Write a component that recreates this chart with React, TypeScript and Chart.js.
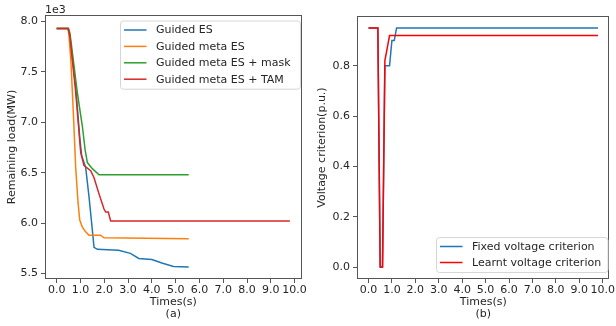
import React, { useEffect, useRef } from "react";
import { Chart, registerables } from "chart.js";

Chart.register(...registerables);

// ---------- data ----------
const timeTicks = [0, 1, 2, 3, 4, 5, 6, 7, 8, 9, 10];
const loadTicks = [5.5, 6.0, 6.5, 7.0, 7.5, 8.0];
const voltTicks = [0, 0.2, 0.4, 0.6, 0.8];

const esTime = [0, 0.48, 0.55, 0.8, 0.97, 1.05, 1.22, 1.36, 1.5, 1.57, 1.71, 2.6, 3.1, 3.45, 4.0, 4.42, 4.91, 5.55];
const esLoad = [7.93, 7.93, 7.86, 7.35, 6.85, 6.67, 6.55, 6.26, 5.93, 5.76, 5.74, 5.73, 5.7, 5.65, 5.64, 5.605, 5.57, 5.565];

const metaTime = [0, 0.48, 0.52, 0.6, 0.7, 0.8, 0.9, 0.97, 1.08, 1.2, 1.36, 1.85, 1.99, 5.55];
const metaLoad = [7.93, 7.93, 7.85, 7.6, 7.1, 6.55, 6.2, 6.03, 5.96, 5.92, 5.88, 5.88, 5.855, 5.845];

const maskTime = [0, 0.5, 0.56, 0.73, 0.87, 1.08, 1.2, 1.29, 1.5, 1.78, 5.55];
const maskLoad = [7.93, 7.93, 7.88, 7.56, 7.29, 6.96, 6.72, 6.6, 6.54, 6.48, 6.48];

const tamTime = [0, 0.48, 0.55, 0.8, 1.01, 1.15, 1.43, 1.57, 1.78, 1.99, 2.06, 2.17, 2.27, 9.8];
const tamLoad = [7.93, 7.93, 7.86, 7.3, 6.7, 6.57, 6.52, 6.45, 6.29, 6.14, 6.11, 6.11, 6.02, 6.02];

const fixedTime = [0, 0.4, 0.5, 0.6, 0.7, 0.9, 1.0, 1.1, 1.2, 9.8];
const fixedVolt = [0.95, 0.95, 0, 0, 0.8, 0.8, 0.9, 0.9, 0.95, 0.95];

const learntTime = [0, 0.4, 0.5, 0.6, 0.7, 0.9, 9.8];
const learntVolt = [0.95, 0.95, 0, 0, 0.82, 0.92, 0.92];

const leftLabels = ["Guided ES", "Guided meta ES", "Guided meta ES + mask", "Guided meta ES + TAM"];
const leftColors = ["#1f77b4", "#ff7f0e", "#2ca02c", "#d62728"];
const rightLabels = ["Fixed voltage criterion", "Learnt voltage criterion"];
const rightColors = ["#1f77b4", "#ff0000"];

// ---------- helpers ----------
const FONT = "DejaVu Sans";
const TEXT = "#262626";
const AXIS = "#555555";

const zip = (xs: number[], ys: number[]) => xs.map((x, i) => ({ x, y: ys[i] }));

function framePlugin() {
  return {
    id: "frame",
    afterDraw(chart: any) {
      const { ctx, chartArea: a } = chart;
      ctx.save();
      ctx.strokeStyle = AXIS;
      ctx.lineWidth = 1;
      ctx.strokeRect(Math.round(a.left) + 0.5, Math.round(a.top) + 0.5, Math.round(a.right - a.left) - 1, Math.round(a.bottom - a.top) - 1);
      ctx.restore();
    },
  };
}

function legendPlugin(labels: string[], colors: string[], box: { x: number; y: number; right?: number }, row: number) {
  return {
    id: "customLegend",
    afterDraw(chart: any) {
      const ctx = chart.ctx;
      ctx.save();
      ctx.font = `11px "${FONT}"`;
      const maxW = Math.max(...labels.map((l) => ctx.measureText(l).width));
      const textX = box.x + 36;
      const w = box.right !== undefined ? box.right - box.x : textX - box.x + maxW + 5;
      const h = 9.5 * 2 + row * (labels.length - 1);
      ctx.beginPath();
      (ctx as any).roundRect(box.x + 0.5, box.y + 0.5, w, h, 3);
      ctx.fillStyle = "rgba(255,255,255,0.8)";
      ctx.fill();
      ctx.strokeStyle = "#d6d6d6";
      ctx.lineWidth = 1;
      ctx.stroke();
      labels.forEach((l, i) => {
        const y = box.y + 9.5 + i * row;
        ctx.beginPath();
        ctx.strokeStyle = colors[i];
        ctx.lineWidth = 1.5;
        ctx.moveTo(box.x + 4, y);
        ctx.lineTo(box.x + 26.5, y);
        ctx.stroke();
        ctx.fillStyle = TEXT;
        ctx.textBaseline = "middle";
        ctx.textAlign = "left";
        ctx.fillText(l, textX, y + 0.5);
      });
      ctx.restore();
    },
  };
}

function exponentPlugin() {
  return {
    id: "exponent",
    afterDraw(chart: any) {
      const { ctx, chartArea: a } = chart;
      ctx.save();
      ctx.font = `11px "${FONT}"`;
      ctx.fillStyle = TEXT;
      ctx.textAlign = "left";
      ctx.textBaseline = "alphabetic";
      ctx.fillText("1e3", a.left, a.top - 2);
      ctx.restore();
    },
  };
}

function makeOptions(p: {
  yMin: number; yMax: number; yTicks: number[]; yTitle: string; xSub: string;
  padRight: number; padTop: number; yWidth: number; yTitlePad: number;
}) {
  const tickFont = { family: FONT, size: 11 };
  return {
    responsive: false,
    animation: false as const,
    devicePixelRatio: 1,
    layout: { padding: { left: 0, right: p.padRight, top: p.padTop, bottom: 0 } },
    plugins: { legend: { display: false }, tooltip: { enabled: false } },
    elements: { point: { radius: 0 }, line: { borderWidth: 1.5, tension: 0 } },
    scales: {
      x: {
        type: "linear" as const,
        min: -0.49,
        max: 10.29,
        afterBuildTicks: (s: any) => { s.ticks = timeTicks.map((v) => ({ value: v })); },
        afterFit: (s: any) => { s.height = 47; },
        ticks: {
          callback: (v: any) => Number(v).toFixed(1),
          font: tickFont, color: TEXT, padding: 1, maxRotation: 0, autoSkip: false,
        },
        grid: { drawOnChartArea: false, drawTicks: true, tickLength: 4, color: AXIS, tickWidth: 1 },
        border: { display: false },
        title: {
          display: true, text: ["Times(s)", p.xSub], color: TEXT,
          font: { family: FONT, size: 11, lineHeight: 1.1 }, padding: { top: 0, bottom: 6 },
        },
      },
      y: {
        type: "linear" as const,
        min: p.yMin,
        max: p.yMax,
        afterBuildTicks: (s: any) => { s.ticks = p.yTicks.map((v) => ({ value: v })); },
        afterFit: (s: any) => { s.width = p.yWidth; },
        ticks: {
          callback: (v: any) => Number(v).toFixed(1),
          font: tickFont, color: TEXT, padding: 3, autoSkip: false,
        },
        grid: { drawOnChartArea: false, drawTicks: true, tickLength: 4, color: AXIS, tickWidth: 1 },
        border: { display: false },
        title: {
          display: true, text: p.yTitle, color: TEXT,
          font: { family: FONT, size: 11, lineHeight: 1.1 }, padding: { top: p.yTitlePad, bottom: 0 },
        },
      },
    },
  };
}

export default function App() {
  const leftRef = useRef<HTMLCanvasElement>(null);
  const rightRef = useRef<HTMLCanvasElement>(null);

  useEffect(() => {
    const leftSeries = [
      zip(esTime, esLoad),
      zip(metaTime, metaLoad),
      zip(maskTime, maskLoad),
      zip(tamTime, tamLoad),
    ];
    const left = new Chart(leftRef.current as HTMLCanvasElement, {
      type: "line",
      data: {
        datasets: leftSeries.map((d, i) => ({
          label: leftLabels[i], data: d, borderColor: leftColors[i], backgroundColor: leftColors[i],
          fill: false, order: 3 - i,
        })),
      },
      options: makeOptions({
        yMin: 5.446, yMax: 8.063, yTicks: loadTicks, yTitle: "Remaining load(MW)", xSub: "(a)",
        padRight: 5, padTop: 15, yWidth: 45, yTitlePad: 6.5,
      }) as any,
      plugins: [framePlugin(), exponentPlugin(), legendPlugin(leftLabels, leftColors, { x: 120, y: 20.5, right: 300 }, 16.4)],
    });

    const rightSeries = [zip(fixedTime, fixedVolt), zip(learntTime, learntVolt)];
    const right = new Chart(rightRef.current as HTMLCanvasElement, {
      type: "line",
      data: {
        datasets: rightSeries.map((d, i) => ({
          label: rightLabels[i], data: d, borderColor: rightColors[i], backgroundColor: rightColors[i],
          fill: false, order: 1 - i,
        })),
      },
      options: makeOptions({
        yMin: -0.0475, yMax: 0.9975, yTicks: voltTicks, yTitle: "Voltage criterion(p.u.)", xSub: "(b)",
        padRight: 2, padTop: 16, yWidth: 49, yTitlePad: 8,
      }) as any,
      plugins: [framePlugin(), legendPlugin(rightLabels, rightColors, { x: 128, y: 237, right: 299.5 }, 16)],
    });

    return () => {
      left.destroy();
      right.destroy();
    };
  }, []);

  return (
    <div style={{ position: "fixed", left: 0, top: 0, width: 616, height: 326, background: "#fff" }}>
      <canvas ref={leftRef} width={308} height={326} style={{ position: "absolute", left: 0, top: 0, width: 308, height: 326 }} />
      <canvas ref={rightRef} width={308} height={326} style={{ position: "absolute", left: 308, top: 0, width: 308, height: 326 }} />
    </div>
  );
}
